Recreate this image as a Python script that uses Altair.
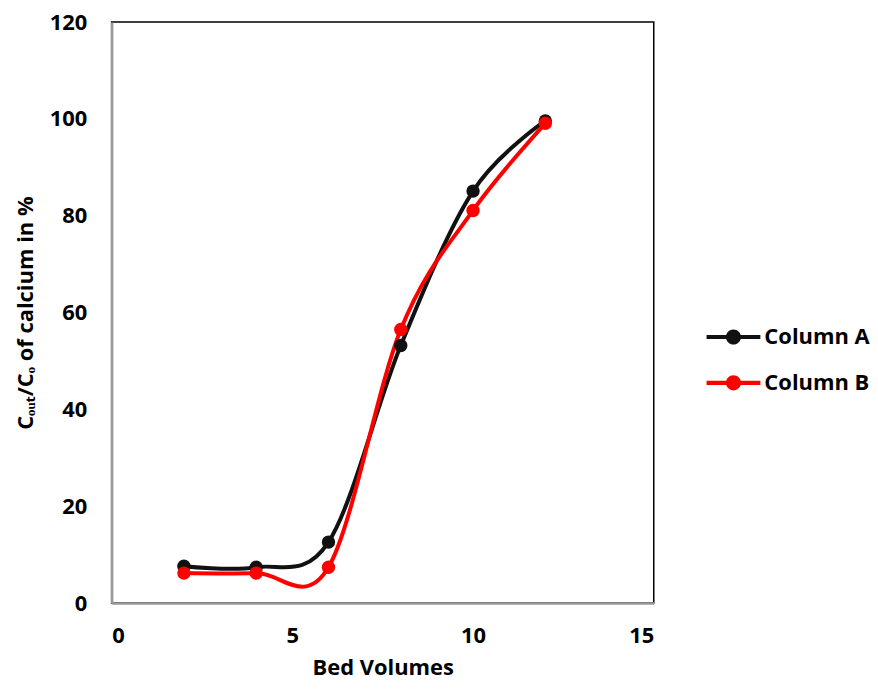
import altair as alt
import pandas as pd

bed_volumes = [2, 4, 6, 8, 10, 12]
column_a = [7.6, 7.4, 12.6, 53.2, 85.1, 99.6]
column_b = [6.2, 6.2, 7.4, 56.5, 81.1, 99.1]
series_names = ["Column A", "Column B"]
series_colors = ["#111111", "#ff0000"]
x_ticks = [0, 5, 10, 15]
y_ticks = [0, 20, 40, 60, 80, 100, 120]

df = pd.DataFrame({
    "bv": bed_volumes * 2,
    "value": column_a + column_b,
    "series": [series_names[0]] * len(bed_volumes) + [series_names[1]] * len(bed_volumes),
})

FONT = "Open Sans"

legend_path = (
    "M-1,-0.075H-0.25V0.075H-1Z "
    "M0.25,-0.075H1V0.075H0.25Z "
    "M0.28,0A0.28,0.28,0,1,1,-0.28,0A0.28,0.28,0,1,1,0.28,0Z"
)

legend = alt.Legend(title=None, orient="none",
                    legendX=597, legendY=289,
                    padding=0,
                    symbolType=legend_path,
                    symbolSize=2916,
                    symbolStrokeWidth=0,
                    symbolOpacity=1,
                    labelFont=FONT, labelFontSize=22,
                    labelFontWeight="bold", labelColor="#000",
                    labelOffset=4, rowPadding=8)

x = alt.X("bv:Q", title="Bed Volumes",
          scale=alt.Scale(domain=[0, 15], nice=False),
          axis=alt.Axis(values=x_ticks, labelPadding=23, titlePadding=11))
y = alt.Y("value:Q", title="Cₒᵤₜ/Cₒ of calcium in %",
          scale=alt.Scale(domain=[0, 120], nice=False),
          axis=alt.Axis(values=y_ticks, labelPadding=25, titlePadding=12))

color_scale = alt.Scale(domain=series_names, range=series_colors)

base = alt.Chart(df)

lines = base.mark_line(interpolate="cardinal", strokeWidth=4).encode(
    x=x, y=y,
    color=alt.Color("series:N", scale=color_scale, legend=legend),
)

points = base.mark_circle(size=180, opacity=1).encode(
    x=x, y=y,
    color=alt.Color("series:N", scale=color_scale, legend=legend),
)

chart = alt.layer(lines, points).properties(
    width=544, height=583, padding={"left": 6, "top": 2, "right": 0, "bottom": 0}
).configure_view(
    stroke="#000", strokeWidth=1.5
).configure_axis(
    grid=False, ticks=False,
    domainColor="#999999", domainWidth=2.5,
    labelFont=FONT, labelFontSize=22, labelFontWeight="bold", labelColor="#000",
    titleFont=FONT, titleFontSize=22, titleFontWeight="bold", titleColor="#000",
)

chart.save("out.html", embed_options={"renderer": "svg", "actions": False})
